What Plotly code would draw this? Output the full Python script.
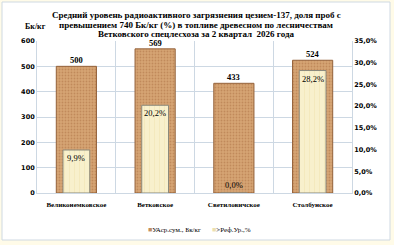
import plotly.graph_objects as go

categories = ["Великонемковское", "Ветковское", "Светиловичское", "Столбунское"]
activity = [500, 569, 433, 524]          # Бк/кг
exceed_pct = [9.9, 20.2, 0.0, 28.2]      # %
left_ticks = [0, 100, 200, 300, 400, 500, 600]
right_ticks = [0, 5, 10, 15, 20, 25, 30, 35]

name1 = "УАср.сум., Бк/кг"
name2 = ">Реф.Ур.,%"
title_lines = ["Средний уровень радиоактивного загрязнения цезием-137, доля проб с",
               "превышением 740 Бк/кг (%) в топливе древесном по лесничествам",
               "Ветковского спецлесхоза за 2 квартал  2026 года"]

SERIF = "Liberation Serif"
SANS = "DejaVu Sans"
C1 = "#d3a072"
C2 = "#f7eec6"

W, H = 394, 245
l, r, t, b = 37, 42, 41, 52
pw, ph = W - l - r, H - t - b
def px_x(px): return (px - l) / pw
def px_y(py): return (H - b - py) / ph

fig = go.Figure()
fig.add_trace(go.Bar(
    x=categories, y=activity, name=name1, yaxis="y", width=0.51, showlegend=False,
    marker=dict(color=C1, line=dict(color="#94623a", width=1),
                pattern=dict(shape=".", fgcolor="#a96f42", bgcolor="#d6a474",
                             size=3, solidity=0.3)),
))
fig.add_trace(go.Bar(
    x=categories, y=exceed_pct, name=name2, yaxis="y2", width=0.34, showlegend=False,
    marker=dict(color=C2, line=dict(color="#8c8a7c", width=1),
                pattern=dict(shape="|", fgcolor="#efe2ae", bgcolor="#f8f0cc",
                             size=5, solidity=0.2)),
))

annots = []
for c, v in zip(categories, activity):
    annots.append(dict(x=c, y=v, xref="x", yref="y", text="<b>" + str(v) + "</b>",
                       showarrow=False, yanchor="bottom", yshift=-1,
                       font=dict(family=SERIF, size=8.5, color="#000000")))
for c, p in zip(categories, exceed_pct):
    lbl = f"{p:.1f}".replace(".", ",") + "%"
    annots.append(dict(x=c, y=p, xref="x", yref="y2", text=lbl, showarrow=False,
                       yshift=-8 if p > 3 else 8,
                       font=dict(family=SERIF, size=8.5, color="#000000")))

for line, py in zip(title_lines, [15, 25, 34.5]):
    annots.append(dict(x=px_x(196), y=px_y(py), xref="paper", yref="paper",
                       text="<b>" + line + "</b>", showarrow=False,
                       xanchor="center", yanchor="middle",
                       font=dict(family=SERIF, size=9, color="#000000")))

annots.append(dict(x=px_x(23), y=px_y(20), xref="paper", yref="paper",
                   text="<b>Бк/кг</b>", showarrow=False,
                   font=dict(family=SERIF, size=8, color="#000000")))

# legend drawn as text entries
for name, col, px in [(name1, "#c08e62", 146), (name2, "#ece0b0", 210)]:
    annots.append(dict(x=px_x(px), y=px_y(230), xref="paper", yref="paper",
                       xanchor="left", yanchor="middle", showarrow=False,
                       text=f"<span style='color:{col}'>■</span>" + name,
                       font=dict(family=SERIF, size=7, color="#000000")))

right_text = [f"{v:.1f}".replace(".", ",") + "%" for v in right_ticks]

fig.update_layout(
    width=W, height=H,
    margin=dict(l=l, r=r, t=t, b=b),
    paper_bgcolor="#fffbe8",
    plot_bgcolor="#ffffff",
    barmode="overlay",
    separators=",.",
    showlegend=False,
    xaxis=dict(tickson="boundaries", showgrid=True, gridcolor="#cdd8e3", gridwidth=1,
               showline=True, linecolor="#cdd8e3", ticks="", ticklabelstandoff=5,
               tickfont=dict(family=SERIF, size=7, color="#000000", weight="bold"),
               fixedrange=True, automargin=False),
    yaxis=dict(range=[0, 600], tickvals=left_ticks, showgrid=True,
               gridcolor="#cdd8e3", showline=True, linecolor="#cdd8e3",
               tickfont=dict(family=SANS, size=6.5, color="#000000", weight="bold"),
               zeroline=False, ticks="", automargin=False),
    yaxis2=dict(range=[0, 35], tickvals=right_ticks, ticktext=right_text,
                overlaying="y", side="right", showgrid=False,
                showline=True, linecolor="#cdd8e3", zeroline=False, ticks="",
                tickfont=dict(family=SANS, size=6.5, color="#000000", weight="bold"),
                automargin=False),
    annotations=annots,
    shapes=[dict(type="rect", xref="paper", yref="paper", layer="below",
                 x0=px_x(2), x1=px_x(390), y0=px_y(240), y1=px_y(2),
                 fillcolor="#ffffff", line=dict(color="#cfd9e2", width=1))],
)

fig.write_html("out.html")
